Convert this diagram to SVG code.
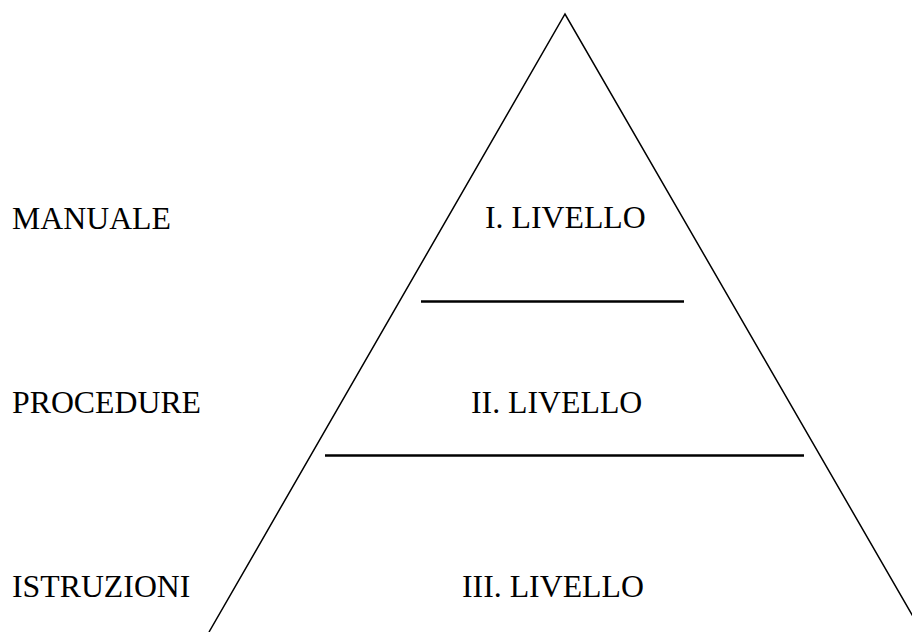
<svg xmlns="http://www.w3.org/2000/svg" width="912" height="632" viewBox="0 0 912 632">
<style>
.t{font-family:"Liberation Serif","Times New Roman",serif;font-size:31.8px;fill:#000}
.ln{stroke:#000;fill:none}
</style>
<rect width="912" height="632" fill="#fff"/>
<g id="pyramid">
<polyline class="ln" stroke-width="1.5" points="209,632 565,14 922,632"/>
</g>
<g id="connectors">
<line class="ln" stroke-width="2.5" x1="421" y1="301.5" x2="684" y2="301.5"/>
<line class="ln" stroke-width="2.5" x1="325" y1="455.5" x2="804" y2="455.5"/>
</g>
<g id="labels-left">
<text class="t" x="12" y="229">MANUALE</text>
<text class="t" x="12" y="413">PROCEDURE</text>
<text class="t" x="12" y="597">ISTRUZIONI</text>
</g>
<g id="level1"><text class="t" x="485" y="228">I. LIVELLO</text></g>
<g id="level2"><text class="t" x="471" y="413">II. LIVELLO</text></g>
<g id="level3"><text class="t" x="462" y="597">III. LIVELLO</text></g>
</svg>
